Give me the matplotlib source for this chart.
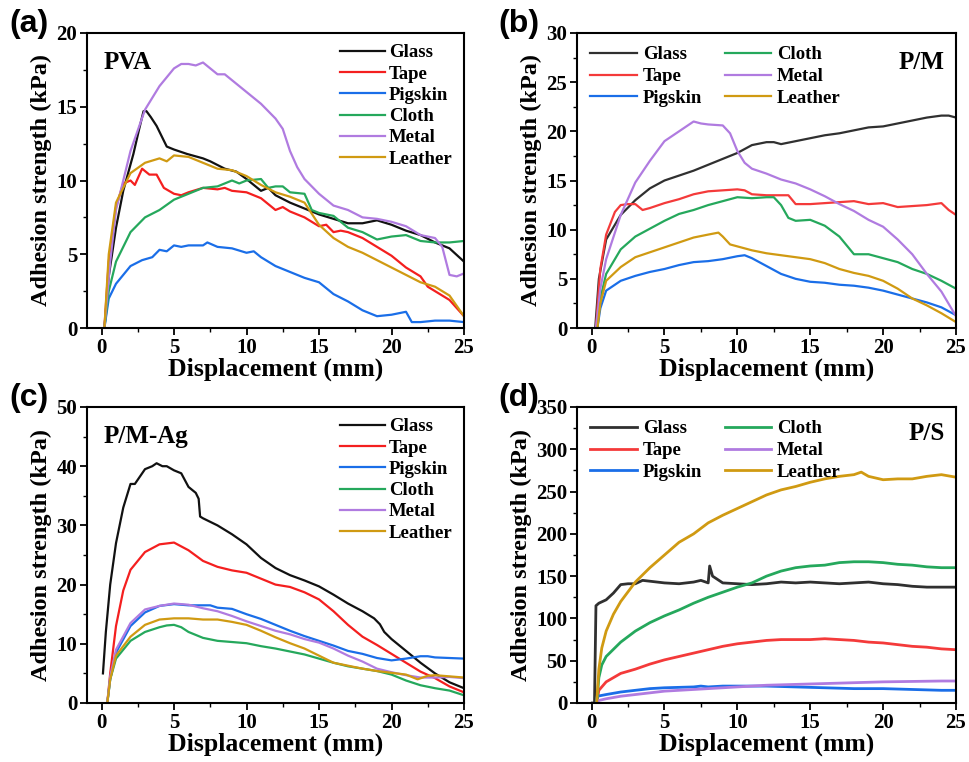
import matplotlib
matplotlib.use("Agg")
import matplotlib.pyplot as plt
from matplotlib.ticker import MultipleLocator

# ---------------- data ----------------
# Panel (a) PVA
a_glass_x = [0.2, 0.5, 1.0, 1.5, 2.2, 2.6, 2.9, 3.1, 3.4, 3.8, 4.5, 5.0, 5.9, 7.0, 7.5, 8.5, 9.3, 10.0, 10.5, 11.0, 11.5, 12.0, 13.0, 14.0, 15.0, 16.0, 17.0, 18.0, 19.0, 20.0, 21.0, 22.0, 23.0, 24.0, 25.0]
a_glass_y = [0.0, 3.5, 6.8, 9.3, 11.8, 13.5, 14.7, 14.7, 14.3, 13.7, 12.3, 12.1, 11.8, 11.5, 11.3, 10.8, 10.6, 10.1, 9.7, 9.3, 9.5, 9.0, 8.5, 8.1, 7.7, 7.4, 7.1, 7.1, 7.3, 7.0, 6.6, 6.3, 5.8, 5.4, 4.5]
a_tape_x = [0.2, 0.5, 1.0, 1.5, 2.0, 2.3, 2.8, 3.3, 3.8, 4.3, 5.0, 5.5, 6.0, 7.0, 8.0, 8.5, 9.0, 10.0, 11.0, 12.0, 12.5, 13.0, 14.0, 15.0, 15.5, 16.0, 16.5, 17.0, 18.0, 19.0, 20.0, 21.0, 22.0, 22.5, 23.0, 24.0, 25.0]
a_tape_y = [0.0, 4.5, 8.2, 9.8, 10.0, 9.7, 10.8, 10.4, 10.4, 9.5, 9.1, 9.0, 9.2, 9.5, 9.4, 9.5, 9.3, 9.2, 8.8, 8.0, 8.2, 7.9, 7.5, 6.9, 7.0, 6.5, 6.6, 6.5, 6.1, 5.5, 4.9, 4.1, 3.5, 2.8, 2.5, 1.9, 0.8]
a_pig_x = [0.2, 0.5, 1.0, 2.0, 2.8, 3.5, 4.0, 4.5, 5.0, 5.5, 6.0, 7.0, 7.3, 8.0, 9.0, 10.0, 10.5, 11.0, 12.0, 13.0, 14.0, 15.0, 16.0, 17.0, 18.0, 19.0, 20.0, 21.0, 21.4, 22.0, 23.0, 24.0, 25.0]
a_pig_y = [0.0, 2.0, 3.0, 4.2, 4.6, 4.8, 5.3, 5.2, 5.6, 5.5, 5.6, 5.6, 5.8, 5.5, 5.4, 5.1, 5.2, 4.8, 4.2, 3.8, 3.4, 3.1, 2.3, 1.8, 1.2, 0.8, 0.9, 1.1, 0.4, 0.4, 0.5, 0.5, 0.4]
a_cloth_x = [0.2, 0.5, 1.0, 2.0, 3.0, 4.0, 5.0, 6.0, 7.0, 8.0, 9.0, 9.5, 10.0, 11.0, 11.5, 12.0, 12.5, 13.0, 14.0, 14.5, 15.0, 16.0, 17.0, 18.0, 19.0, 20.0, 21.0, 22.0, 23.0, 24.0, 25.0]
a_cloth_y = [0.0, 2.5, 4.5, 6.5, 7.5, 8.0, 8.7, 9.1, 9.5, 9.6, 10.0, 9.8, 10.0, 10.1, 9.5, 9.6, 9.6, 9.2, 9.1, 8.0, 7.8, 7.6, 6.8, 6.5, 6.0, 6.2, 6.3, 5.9, 5.8, 5.8, 5.9]
a_metal_x = [0.2, 0.6, 1.0, 2.0, 3.0, 4.0, 5.0, 5.5, 6.0, 6.5, 7.0, 7.5, 8.0, 8.5, 9.0, 10.0, 11.0, 12.0, 12.5, 13.0, 13.5, 14.0, 15.0, 16.0, 17.0, 18.0, 19.0, 20.0, 21.0, 22.0, 23.0, 23.5, 24.0, 24.5, 25.0]
a_metal_y = [0.0, 4.5, 8.0, 12.0, 14.8, 16.4, 17.6, 17.9, 17.9, 17.8, 18.0, 17.6, 17.2, 17.2, 16.8, 16.0, 15.2, 14.2, 13.5, 12.0, 10.9, 10.1, 9.1, 8.3, 8.0, 7.5, 7.4, 7.2, 6.9, 6.3, 6.1, 5.5, 3.6, 3.5, 3.7]
a_leather_x = [0.2, 0.5, 1.0, 2.0, 3.0, 4.0, 4.5, 5.0, 6.0, 7.0, 8.0, 9.0, 10.0, 11.0, 12.0, 13.0, 14.0, 15.0, 16.0, 17.0, 18.0, 19.0, 20.0, 21.0, 22.0, 23.0, 24.0, 25.0]
a_leather_y = [0.0, 5.0, 8.5, 10.5, 11.2, 11.5, 11.3, 11.7, 11.6, 11.2, 10.8, 10.7, 10.3, 9.7, 9.2, 8.9, 8.5, 7.0, 6.1, 5.5, 5.1, 4.6, 4.1, 3.6, 3.1, 2.8, 2.2, 0.8]

# Panel (b) P/M
b_glass_x = [0.25, 0.5, 1.0, 2.0, 3.0, 4.0, 5.0, 6.0, 7.0, 8.0, 9.0, 10.0, 11.0, 12.0, 12.5, 13.0, 14.0, 15.0, 16.0, 17.0, 18.0, 19.0, 20.0, 21.0, 22.0, 23.0, 24.0, 24.5, 25.0]
b_glass_y = [0.0, 5.0, 9.0, 11.5, 13.0, 14.2, 15.0, 15.5, 16.0, 16.6, 17.2, 17.8, 18.6, 18.9, 18.9, 18.7, 19.0, 19.3, 19.6, 19.8, 20.1, 20.4, 20.5, 20.8, 21.1, 21.4, 21.6, 21.6, 21.4]
b_tape_x = [0.3, 0.6, 1.0, 1.6, 2.0, 2.5, 3.0, 3.5, 4.0, 5.0, 6.0, 7.0, 8.0, 9.0, 10.0, 10.5, 11.0, 12.0, 13.0, 13.5, 14.0, 15.0, 16.0, 17.0, 18.0, 19.0, 20.0, 21.0, 22.0, 23.0, 24.0, 24.5, 25.0]
b_tape_y = [0.0, 6.0, 9.5, 11.8, 12.5, 12.6, 12.6, 12.0, 12.2, 12.7, 13.1, 13.6, 13.9, 14.0, 14.1, 14.0, 13.6, 13.5, 13.5, 13.5, 12.6, 12.6, 12.7, 12.8, 12.9, 12.6, 12.7, 12.3, 12.4, 12.5, 12.7, 12.0, 11.5]
b_pig_x = [0.4, 0.6, 1.0, 2.0, 3.0, 4.0, 5.0, 6.0, 7.0, 8.0, 9.0, 10.0, 10.5, 11.0, 12.0, 13.0, 14.0, 15.0, 16.0, 17.0, 18.0, 19.0, 20.0, 21.0, 22.0, 23.0, 24.0, 25.0]
b_pig_y = [0.0, 2.0, 3.8, 4.8, 5.3, 5.7, 6.0, 6.4, 6.7, 6.8, 7.0, 7.3, 7.4, 7.1, 6.3, 5.5, 5.0, 4.7, 4.6, 4.4, 4.3, 4.1, 3.8, 3.4, 3.0, 2.6, 2.1, 1.3]
b_cloth_x = [0.4, 0.6, 1.0, 2.0, 3.0, 4.0, 5.0, 6.0, 7.0, 8.0, 9.0, 10.0, 11.0, 12.0, 12.5, 13.0, 13.5, 14.0, 15.0, 16.0, 17.0, 18.0, 19.0, 20.0, 21.0, 22.0, 23.0, 24.0, 25.0]
b_cloth_y = [0.0, 3.0, 5.5, 8.0, 9.3, 10.1, 10.9, 11.6, 12.0, 12.5, 12.9, 13.3, 13.2, 13.3, 13.3, 12.5, 11.2, 10.9, 11.0, 10.4, 9.3, 7.5, 7.5, 7.1, 6.7, 6.0, 5.5, 4.8, 4.0]
b_metal_x = [0.3, 0.6, 1.0, 2.0, 3.0, 4.0, 5.0, 6.0, 7.0, 7.5, 8.0, 9.0, 9.5, 10.0, 10.5, 11.0, 12.0, 13.0, 14.0, 15.0, 16.0, 17.0, 18.0, 19.0, 20.0, 21.0, 22.0, 23.0, 24.0, 25.0]
b_metal_y = [0.0, 4.0, 7.0, 11.5, 14.8, 17.0, 19.0, 20.0, 21.0, 20.8, 20.7, 20.6, 19.8, 18.0, 16.8, 16.2, 15.7, 15.1, 14.7, 14.1, 13.4, 12.6, 11.9, 11.0, 10.3, 9.0, 7.5, 5.5, 3.7, 1.2]
b_leather_x = [0.4, 0.6, 1.0, 2.0, 3.0, 4.0, 5.0, 6.0, 7.0, 8.0, 8.7, 9.0, 9.5, 10.0, 11.0, 12.0, 13.0, 14.0, 15.0, 16.0, 17.0, 18.0, 19.0, 20.0, 21.0, 22.0, 23.0, 24.0, 25.0]
b_leather_y = [0.0, 2.5, 4.8, 6.2, 7.2, 7.7, 8.2, 8.7, 9.2, 9.5, 9.7, 9.3, 8.5, 8.3, 7.9, 7.6, 7.4, 7.2, 7.0, 6.6, 6.0, 5.6, 5.3, 4.8, 4.0, 3.0, 2.3, 1.5, 0.6]

# Panel (c) P/M-Ag
c_glass_x = [0.1, 0.3, 0.6, 1.0, 1.5, 2.0, 2.3, 3.0, 3.5, 3.8, 4.2, 4.5, 5.0, 5.5, 6.0, 6.5, 6.7, 6.8, 7.0, 8.0, 9.0, 10.0, 11.0, 12.0, 13.0, 14.0, 15.0, 16.0, 17.0, 18.0, 18.8, 19.2, 19.5, 20.0, 21.0, 22.0, 23.0, 24.0, 25.0]
c_glass_y = [5.0, 12.0, 20.0, 27.0, 33.0, 37.0, 37.0, 39.5, 40.0, 40.5, 40.0, 40.0, 39.3, 38.8, 36.5, 35.5, 34.5, 31.5, 31.2, 30.0, 28.5, 26.8, 24.5, 22.8, 21.6, 20.7, 19.7, 18.3, 16.8, 15.5, 14.3, 13.3, 12.0, 10.8, 8.8, 6.8, 5.0, 3.5, 2.5]
c_tape_x = [0.4, 0.6, 1.0, 1.5, 2.0, 3.0, 4.0, 5.0, 6.0, 7.0, 8.0, 9.0, 10.0, 11.0, 12.0, 13.0, 14.0, 15.0, 16.0, 17.0, 18.0, 19.0, 20.0, 21.0, 22.0, 23.0, 24.0, 25.0]
c_tape_y = [0.0, 5.0, 13.0, 19.0, 22.5, 25.5, 26.8, 27.1, 25.8, 24.0, 23.0, 22.4, 22.0, 21.0, 20.0, 19.6, 18.7, 17.5, 15.5, 13.2, 11.2, 9.8, 8.3, 6.8, 5.3, 4.2, 2.8, 1.8]
c_pig_x = [0.4, 0.6, 1.0, 2.0, 3.0, 4.0, 5.0, 6.0, 7.0, 7.5, 8.0, 9.0, 10.0, 11.0, 12.0, 13.0, 14.0, 15.0, 16.0, 17.0, 18.0, 19.0, 20.0, 21.0, 22.0, 22.5, 23.0, 24.0, 25.0]
c_pig_y = [0.0, 4.0, 8.5, 13.0, 15.3, 16.4, 16.7, 16.5, 16.5, 16.5, 16.1, 15.9, 15.0, 14.2, 13.2, 12.2, 11.3, 10.5, 9.7, 8.8, 8.3, 7.6, 7.2, 7.5, 7.9, 7.9, 7.7, 7.6, 7.5]
c_cloth_x = [0.4, 0.6, 1.0, 2.0, 3.0, 4.0, 4.5, 5.0, 5.5, 6.0, 7.0, 8.0, 9.0, 10.0, 11.0, 12.0, 13.0, 14.0, 15.0, 16.0, 17.0, 18.0, 19.0, 20.0, 21.0, 22.0, 23.0, 24.0, 25.0]
c_cloth_y = [0.0, 4.0, 7.5, 10.5, 12.0, 12.8, 13.1, 13.2, 12.8, 12.0, 11.0, 10.5, 10.3, 10.1, 9.6, 9.2, 8.7, 8.2, 7.5, 6.8, 6.2, 5.8, 5.4, 4.8, 3.8, 3.0, 2.5, 2.1, 1.3]
c_metal_x = [0.4, 0.6, 1.0, 2.0, 3.0, 4.0, 5.0, 6.0, 7.0, 8.0, 9.0, 10.0, 11.0, 12.0, 13.0, 14.0, 15.0, 16.0, 17.0, 18.0, 19.0, 20.0, 21.0, 22.0, 23.0, 24.0, 25.0]
c_metal_y = [0.0, 4.5, 9.0, 13.5, 15.8, 16.4, 16.8, 16.6, 16.0, 15.5, 14.7, 13.8, 13.0, 12.2, 11.6, 10.8, 10.2, 9.2, 8.0, 7.0, 5.8, 5.2, 4.7, 4.3, 4.3, 4.4, 4.2]
c_leather_x = [0.4, 0.6, 1.0, 2.0, 3.0, 4.0, 5.0, 6.0, 7.0, 8.0, 9.0, 10.0, 11.0, 12.0, 13.0, 14.0, 15.0, 16.0, 17.0, 18.0, 19.0, 20.0, 21.0, 21.8, 22.5, 23.0, 24.0, 25.0]
c_leather_y = [0.0, 4.0, 8.0, 11.2, 13.2, 14.1, 14.3, 14.3, 14.1, 14.1, 13.7, 13.2, 12.2, 11.1, 10.1, 9.2, 8.0, 6.8, 6.3, 5.8, 5.4, 5.1, 4.8, 4.0, 4.6, 4.7, 4.5, 4.3]

# Panel (d) P/S
d_glass_x = [0.05, 0.2, 0.3, 0.5, 1.0, 1.5, 2.0, 2.5, 3.0, 3.5, 4.0, 5.0, 6.0, 7.0, 7.5, 8.0, 8.1, 8.3, 9.0, 10.0, 11.0, 12.0, 13.0, 14.0, 15.0, 16.0, 17.0, 18.0, 19.0, 20.0, 21.0, 22.0, 23.0, 24.0, 25.0]
d_glass_y = [0, 0, 115, 118, 122, 130, 140, 141, 141, 145, 144, 142, 141, 143, 145, 142, 162, 150, 142, 141, 140, 141, 143, 142, 143, 142, 141, 142, 143, 141, 140, 138, 137, 137, 137]
d_tape_x = [0.35, 0.5, 1.0, 2.0, 3.0, 4.0, 5.0, 6.0, 7.0, 8.0, 9.0, 10.0, 11.0, 12.0, 13.0, 14.0, 15.0, 16.0, 17.0, 18.0, 19.0, 20.0, 21.0, 22.0, 23.0, 24.0, 25.0]
d_tape_y = [0, 15, 25, 35, 40, 46, 51, 55, 59, 63, 67, 70, 72, 74, 75, 75, 75, 76, 75, 74, 72, 71, 69, 67, 66, 64, 63]
d_pig_x = [0.3, 0.4, 1.0, 2.0, 3.0, 4.0, 5.0, 6.0, 7.0, 7.5, 8.0, 9.0, 10.0, 12.0, 14.0, 16.0, 18.0, 20.0, 22.0, 24.0, 25.0]
d_pig_y = [0, 8, 10, 13, 15, 17, 18, 18.5, 19, 20, 19, 20, 20, 20, 19, 18, 17, 17, 16, 15, 15]
d_cloth_x = [0.35, 0.5, 0.7, 1.0, 2.0, 3.0, 4.0, 5.0, 6.0, 7.0, 8.0, 9.0, 10.0, 11.0, 12.0, 13.0, 14.0, 15.0, 16.0, 17.0, 18.0, 19.0, 20.0, 21.0, 22.0, 23.0, 24.0, 25.0]
d_cloth_y = [0, 30, 45, 55, 72, 85, 95, 103, 110, 118, 125, 131, 137, 142, 150, 156, 160, 162, 163, 166, 167, 167, 166, 164, 163, 161, 160, 160]
d_metal_x = [0.35, 0.5, 1.0, 2.0, 3.0, 4.0, 5.0, 6.0, 8.0, 10.0, 12.0, 14.0, 16.0, 18.0, 20.0, 22.0, 24.0, 25.0]
d_metal_y = [0, 3, 5, 8, 10, 12, 14, 15, 17, 19, 21, 22, 23, 24, 25, 25.5, 26, 26]
d_leather_x = [0.35, 0.5, 0.7, 1.0, 1.5, 2.0, 3.0, 4.0, 5.0, 6.0, 7.0, 8.0, 9.0, 10.0, 11.0, 12.0, 13.0, 14.0, 15.0, 16.0, 17.0, 18.0, 18.5, 19.0, 20.0, 21.0, 22.0, 23.0, 24.0, 25.0]
d_leather_y = [0, 40, 65, 85, 105, 120, 143, 160, 175, 190, 200, 213, 222, 230, 238, 246, 252, 256, 261, 265, 268, 270, 273, 268, 264, 265, 265, 268, 270, 267]

labels = ["Glass", "Tape", "Pigskin", "Cloth", "Metal", "Leather"]
panel_titles = ["PVA", "P/M", "P/M-Ag", "P/S"]
panel_letters = ["(a)", "(b)", "(c)", "(d)"]
y_limits = [20, 30, 50, 350]
y_steps = [5, 5, 10, 50]

# ---------------- style ----------------
SERIF = ["Liberation Serif", "DejaVu Serif"]
plt.rcParams["font.family"] = SERIF
plt.rcParams["font.weight"] = "bold"
plt.rcParams["axes.labelweight"] = "bold"

colors_main = ["#111111", "#f41f1f", "#1a6ee8", "#25a85c", "#b07be0", "#d09a12"]
colors_gray = ["#303030", "#f43a3a", "#1a6ee8", "#25a85c", "#b07be0", "#d09a12"]

fig = plt.figure(figsize=(9.69, 7.62), dpi=100)
W, H = 969, 762
boxes = [(87, 33, 464, 328), (577, 33, 956, 328), (87, 407, 464, 703), (577, 407, 956, 703)]

data = [
    [(a_glass_x, a_glass_y), (a_tape_x, a_tape_y), (a_pig_x, a_pig_y), (a_cloth_x, a_cloth_y), (a_metal_x, a_metal_y), (a_leather_x, a_leather_y)],
    [(b_glass_x, b_glass_y), (b_tape_x, b_tape_y), (b_pig_x, b_pig_y), (b_cloth_x, b_cloth_y), (b_metal_x, b_metal_y), (b_leather_x, b_leather_y)],
    [(c_glass_x, c_glass_y), (c_tape_x, c_tape_y), (c_pig_x, c_pig_y), (c_cloth_x, c_cloth_y), (c_metal_x, c_metal_y), (c_leather_x, c_leather_y)],
    [(d_glass_x, d_glass_y), (d_tape_x, d_tape_y), (d_pig_x, d_pig_y), (d_cloth_x, d_cloth_y), (d_metal_x, d_metal_y), (d_leather_x, d_leather_y)],
]

for i in range(4):
    l, t, r, b = boxes[i]
    ax = fig.add_axes([l / W, 1 - b / H, (r - l) / W, (b - t) / H])
    cols = colors_main if i in (0, 2) else colors_gray
    lw = 1.6 if i != 3 else 2.0
    for j, (xs, ys) in enumerate(data[i]):
        ax.plot(xs, ys, color=cols[j], lw=lw, label=labels[j])
    ax.set_xlim(-1, 25)
    ax.set_ylim(0, y_limits[i])
    ax.xaxis.set_major_locator(MultipleLocator(5))
    ax.xaxis.set_minor_locator(MultipleLocator(2.5))
    ax.yaxis.set_major_locator(MultipleLocator(y_steps[i]))
    ax.yaxis.set_minor_locator(MultipleLocator(y_steps[i] / 2))
    ax.tick_params(which="major", direction="out", length=5, width=1.3, labelsize=15, pad=2)
    ax.tick_params(which="minor", direction="out", length=3, width=1.0)
    for lab in ax.get_xticklabels() + ax.get_yticklabels():
        lab.set_fontweight("bold")
    for sp in ax.spines.values():
        sp.set_linewidth(1.5)
    ax.set_xlabel("Displacement (mm)", fontsize=18.5, fontweight="bold", labelpad=0)
    ax.set_ylabel("Adhesion strength (kPa)", fontsize=17.5, fontweight="bold", labelpad=3)

    if i in (0, 2):
        ax.legend(loc="upper right", ncol=1, frameon=False,
                  handlelength=2.4, handletextpad=0.2, labelspacing=0.22,
                  borderaxespad=0.2, prop={"weight": "bold", "size": 13.5, "family": SERIF})
        ax.text(0.045, 0.9, panel_titles[i], transform=ax.transAxes, fontsize=18,
                fontweight="bold", ha="left", va="center")
    else:
        ax.legend(loc="upper left", ncol=2, frameon=False,
                  handlelength=2.5, handletextpad=0.3, labelspacing=0.25,
                  columnspacing=1.2, borderaxespad=0.3,
                  prop={"weight": "bold", "size": 13.5, "family": SERIF})
        ax.text(0.97, 0.9 if i == 1 else 0.91, panel_titles[i], transform=ax.transAxes,
                fontsize=18, fontweight="bold", ha="right", va="center")

    fig.text((l - 58) / W, 1 - (t - 9) / H, panel_letters[i], fontsize=23,
             fontweight="bold", family=["Liberation Sans", "DejaVu Sans"],
             ha="center", va="center")

fig.savefig("out.png", dpi=100)
